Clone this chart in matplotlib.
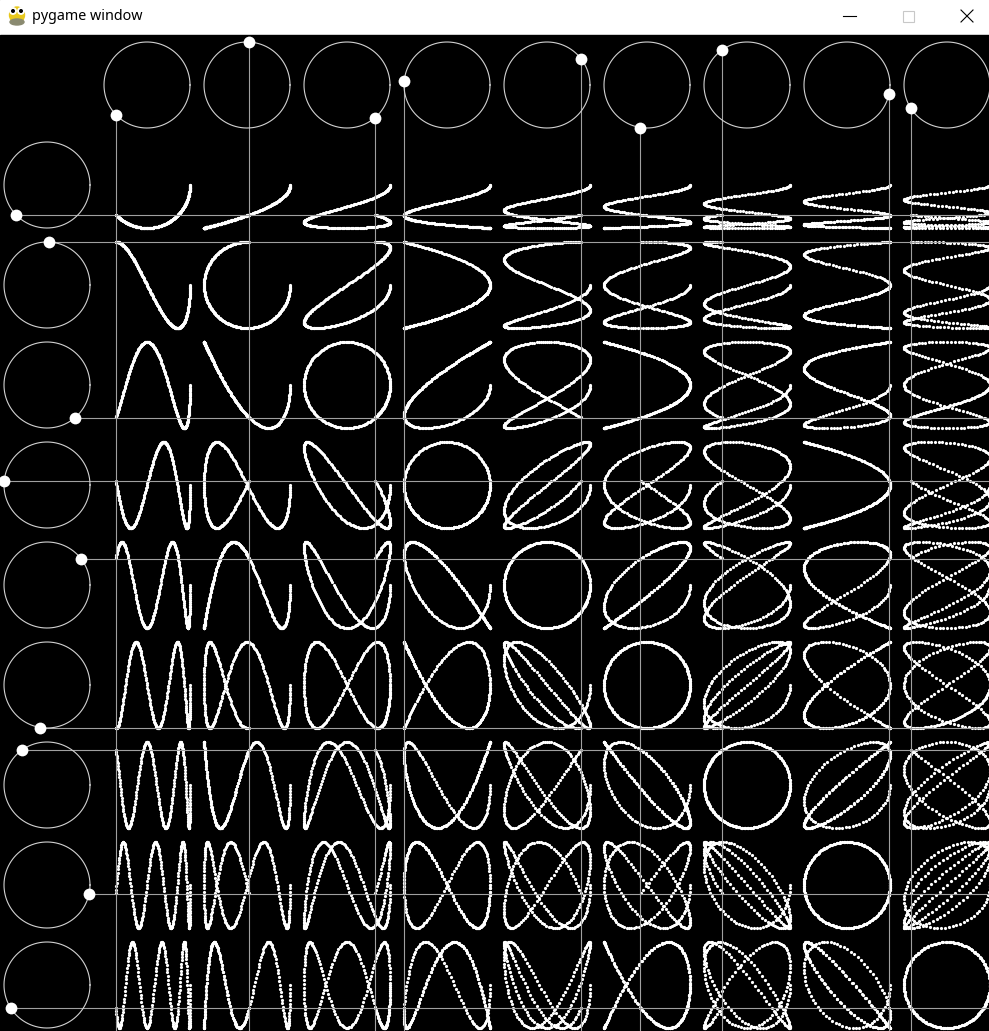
import matplotlib.pyplot as plt
import numpy as np
from matplotlib.patches import Rectangle, Ellipse, Circle

# Lissajous table: frequency of every column / row and the angle reached so far
col_freqs = [1, 2, 3, 4, 5, 6, 7, 8, 9]
row_freqs = [1, 2, 3, 4, 5, 6, 7, 8, 9]
angle_now = 2.3815   # radians
angle_step = 0.01    # one point per frame

# layout (pixels of the screenshot)
W, H = 989, 1031
bar_h = 35
cell = 100
r = 43
x0, y0 = 47, 85   # centre of the left column / top row circles

fig = plt.figure(figsize=(W / 100, H / 100), dpi=100)
ax = fig.add_axes([0, 0, 1, 1])
ax.set_xlim(0, W)
ax.set_ylim(H, 0)
ax.axis('off')

# window title bar
ax.add_patch(Rectangle((0, 0), W, bar_h, color='white', zorder=0))
ax.add_patch(Rectangle((0, bar_h), W, H - bar_h, color='black', zorder=0))
ax.add_patch(Ellipse((17, 15), 15, 16, color='#e8c81c', zorder=1))
ax.add_patch(Ellipse((17, 22), 14, 6, color='#8a8a70', zorder=1))
for ex in (13, 21):
    ax.add_patch(Circle((ex, 11), 3.2, color='white', zorder=2))
    ax.add_patch(Circle((ex, 11), 1.3, color='black', zorder=3))
ax.text(32, 16.5, 'pygame window', fontsize=10.3, family='Noto Sans',
        va='center', ha='left', color='black')
ax.plot([843, 856], [16, 16], color='black', lw=0.8)
ax.add_patch(Rectangle((902.5, 10.5), 11, 11, fill=False, ec='#c8c8c8', lw=0.8))
ax.plot([961, 973], [10, 22], color='black', lw=0.8)
ax.plot([961, 973], [22, 10], color='black', lw=0.8)

t = np.arange(0, angle_now, angle_step)
a = np.linspace(0, 2 * np.pi, 200)

# curves
for i, fx in enumerate(col_freqs):
    cx = x0 + cell * (i + 1)
    for j, fy in enumerate(row_freqs):
        cy = y0 + cell * (j + 1)
        ax.plot(cx + r * np.cos(fx * t), cy + r * np.sin(fy * t), 'o',
                color='white', ms=2.3, mew=0, zorder=3)

# guide lines
for i, f in enumerate(col_freqs):
    cx = x0 + cell * (i + 1)
    dx, dy = cx + r * np.cos(f * angle_now), y0 + r * np.sin(f * angle_now)
    ax.plot([dx, dx], [dy, H], color='#a0a0a0', lw=0.8, zorder=4)
for j, f in enumerate(row_freqs):
    cy = y0 + cell * (j + 1)
    dx, dy = x0 + r * np.cos(f * angle_now), cy + r * np.sin(f * angle_now)
    ax.plot([dx, W], [dy, dy], color='#a0a0a0', lw=0.8, zorder=4)

# circles with their dots
for i, f in enumerate(col_freqs):
    cx = x0 + cell * (i + 1)
    ax.plot(cx + r * np.cos(a), y0 + r * np.sin(a), color='#d2d2d2', lw=0.8, zorder=5)
    ax.plot(cx + r * np.cos(f * angle_now), y0 + r * np.sin(f * angle_now), 'o',
            color='white', ms=8.5, mew=0, zorder=6)
for j, f in enumerate(row_freqs):
    cy = y0 + cell * (j + 1)
    ax.plot(x0 + r * np.cos(a), cy + r * np.sin(a), color='#d2d2d2', lw=0.8, zorder=5)
    ax.plot(x0 + r * np.cos(f * angle_now), cy + r * np.sin(f * angle_now), 'o',
            color='white', ms=8.5, mew=0, zorder=6)

fig.savefig('out.png', dpi=100, facecolor='black')
